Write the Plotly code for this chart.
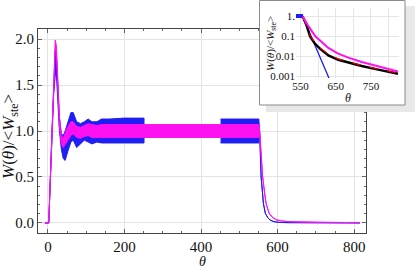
import plotly.graph_objects as go

# ---------------- main chart data (envelopes of the oscillating curves) ----------------
theta_blue_a = [-8, 2, 10, 15, 19, 22, 26, 30, 35, 40, 45, 52, 60, 66, 75, 85, 95, 105, 115, 128, 140, 160, 200, 251]
blue_a_upper = [0, 0, 0.95, 1.55, 1.87, 1.84, 1.5, 1.15, 0.97, 0.95, 1.0, 1.1, 1.2, 1.2, 1.1, 1.08, 1.1, 1.13, 1.1, 1.1, 1.13, 1.13, 1.14, 1.14]
blue_a_lower = [0, 0, 0.85, 1.4, 1.6, 1.62, 1.35, 1.0, 0.8, 0.7, 0.68, 0.78, 0.88, 0.9, 0.82, 0.86, 0.9, 0.88, 0.86, 0.88, 0.87, 0.87, 0.87, 0.87]

theta_blue_b = [451, 500, 551, 553, 557, 563, 568, 574, 580, 590, 605, 630, 700, 815]
blue_b_upper = [1.13, 1.13, 1.13, 1.0, 0.5, 0.21, 0.105, 0.06, 0.033, 0.015, 0.006, 0.002, 0.001, 0.001]
blue_b_lower = [0.87, 0.87, 0.87, 1.0, 0.5, 0.21, 0.105, 0.06, 0.033, 0.015, 0.006, 0.002, 0.001, 0.001]

theta_mag = [-8, 2, 10, 15, 19, 22, 26, 30, 35, 40, 45, 52, 60, 66, 75, 85, 95, 105, 115, 128, 140, 160, 200, 300, 400, 500, 551,
             553, 557, 561, 566, 570, 578, 587, 597, 610, 630, 660, 700, 760, 815]
mag_upper = [0, 0, 0.9, 1.5, 1.99, 1.93, 1.55, 1.15, 0.95, 0.92, 0.98, 1.05, 1.1, 1.1, 1.05, 1.04, 1.06, 1.08, 1.07, 1.06, 1.07, 1.07, 1.07, 1.07, 1.07, 1.07, 1.07,
             1.0, 0.75, 0.5, 0.32, 0.21, 0.105, 0.06, 0.035, 0.022, 0.014, 0.009, 0.006, 0.004, 0.003]
mag_lower = [0, 0, 0.9, 1.5, 1.88, 1.85, 1.45, 1.05, 0.86, 0.82, 0.85, 0.9, 0.95, 0.97, 0.93, 0.92, 0.94, 0.95, 0.93, 0.93, 0.93, 0.93, 0.93, 0.93, 0.93, 0.93, 0.93,
             1.0, 0.75, 0.5, 0.32, 0.21, 0.105, 0.06, 0.035, 0.022, 0.014, 0.009, 0.006, 0.004, 0.003]

x_ticks = [0, 200, 400, 600, 800]
y_ticks = [0.0, 0.5, 1.0, 1.5, 2.0]
y_ticklabels = ["0.0", "0.5", "1.0", "1.5", "2.0"]

# ---------------- inset data (log scale tail) ----------------
theta_in_blue = [537, 555, 556, 570, 585, 600, 615, 632, 645]
blue_in_upper = [1.25, 1.25, 1.0, 0.26, 0.063, 0.015, 0.0036, 0.0007, 0.0002]
blue_in_lower = [0.9, 0.9, 1.0, 0.26, 0.063, 0.015, 0.0036, 0.0007, 0.0002]

theta_in_black = [556, 566, 577, 590, 605, 629, 657, 686, 724, 771, 827]
black_in = [1.0, 0.4, 0.1, 0.045, 0.024, 0.011, 0.0066, 0.0047, 0.0032, 0.0021, 0.0013]
red_in = [1.0, 0.42, 0.11, 0.05, 0.027, 0.0125, 0.0073, 0.0051, 0.0034, 0.0022, 0.0014]

theta_in_mag = [556, 570, 592, 610, 629, 657, 686, 724, 771, 827]
mag_in = [1.0, 0.38, 0.1, 0.053, 0.026, 0.0135, 0.0085, 0.0051, 0.0031, 0.0017]

inset_x_ticks = [550, 650, 750]
inset_y_ticks = [1, 0.1, 0.01, 0.001]
inset_y_ticklabels = ["1.", "0.1", "0.01", "0.001"]

W, H = 415, 270
BLUE = "#1f1ff5"
MAG = "#ff10f0"
SERIF = "Liberation Serif, Times New Roman, serif"


def band(theta, upper, lower):
    return list(theta) + list(theta)[::-1], list(upper) + list(lower)[::-1]


fig = go.Figure()

# main chart bands
for th, up, lo, col in [(theta_blue_a, blue_a_upper, blue_a_lower, BLUE),
                        (theta_blue_b, blue_b_upper, blue_b_lower, BLUE),
                        (theta_mag, mag_upper, mag_lower, MAG)]:
    bx, by = band(th, up, lo)
    fig.add_trace(go.Scatter(x=bx, y=by, mode="lines", fill="toself", fillcolor=col,
                             line=dict(color=col, width=1), xaxis="x", yaxis="y",
                             hoverinfo="skip", showlegend=False))

# canvas subplot for the inset box (drawn above main plot)
fig.add_trace(go.Scatter(x=[], y=[], xaxis="x2", yaxis="y2", showlegend=False))

# inset curves
bx, by = band(theta_in_blue, blue_in_upper, blue_in_lower)
fig.add_trace(go.Scatter(x=bx, y=by, mode="lines", fill="toself", fillcolor=BLUE,
                         line=dict(color=BLUE, width=1.3), xaxis="x3", yaxis="y3",
                         showlegend=False))
fig.add_trace(go.Scatter(x=theta_in_black, y=black_in, mode="lines", line=dict(color="black", width=2.4),
                         xaxis="x3", yaxis="y3", showlegend=False))
fig.add_trace(go.Scatter(x=theta_in_black, y=red_in, mode="lines", line=dict(color="#e00000", width=1.2, dash="dash"),
                         xaxis="x3", yaxis="y3", showlegend=False))
fig.add_trace(go.Scatter(x=theta_in_mag, y=mag_in, mode="lines", line=dict(color=MAG, width=2),
                         xaxis="x3", yaxis="y3", showlegend=False))

frame = dict(showline=True, linecolor="#444", linewidth=1, mirror="allticks",
             ticks="inside", ticklen=4, tickcolor="#666", showgrid=True,
             gridcolor="#e3e3e3", gridwidth=1, zeroline=False, automargin=False,
             tickfont=dict(family=SERIF, size=15, color="#111"))

fig.update_layout(
    width=W, height=H,
    margin=dict(l=0, r=0, t=0, b=0),
    paper_bgcolor="white", plot_bgcolor="rgba(0,0,0,0)",
    showlegend=False,
    xaxis=dict(domain=[38 / W, 366 / W], range=[-26, 831], anchor="y",
               tickvals=x_ticks, minor=dict(dtick=50, tick0=0, ticks="inside", ticklen=2, tickcolor="#666", showgrid=False),
               **frame),
    yaxis=dict(domain=[(H - 233) / H, (H - 29) / H], range=[-0.109, 2.109], anchor="x",
               tickvals=y_ticks, ticktext=y_ticklabels,
               minor=dict(dtick=0.1, tick0=0, ticks="inside", ticklen=2, tickcolor="#666", showgrid=False),
               **frame),
    xaxis2=dict(domain=[0, 1], range=[0, W], visible=False, anchor="y2", fixedrange=True),
    yaxis2=dict(domain=[0, 1], range=[H, 0], visible=False, anchor="x2", fixedrange=True),
    xaxis3=dict(domain=[296 / W, 399 / W], range=[537, 830], anchor="y3",
                tickvals=inset_x_ticks, showline=False, ticks="", showgrid=True,
                gridcolor="#e6e6e6", automargin=False, zeroline=False,
                minor=dict(dtick=50, tick0=0, showgrid=True, gridcolor="#e6e6e6"),
                tickfont=dict(family=SERIF, size=11, color="#111")),
    yaxis3=dict(domain=[(H - 78) / H, (H - 8) / H], type="log", range=[-3.1, 0.43], anchor="x3",
                tickvals=inset_y_ticks, ticktext=inset_y_ticklabels, showline=False, ticks="",
                showgrid=True, gridcolor="#e6e6e6", automargin=False, zeroline=False,
                tickfont=dict(family=SERIF, size=11, color="#111")),
)

# inset box with shadow (on the canvas subplot, above the main chart)
fig.add_shape(type="rect", xref="x2", yref="y2", x0=266, y0=6, x1=416, y1=112,
              fillcolor="#e8e8e8", line=dict(width=0), layer="below")
fig.add_shape(type="rect", xref="x2", yref="y2", x0=259.5, y0=0.5, x1=405, y1=105,
              fillcolor="white", line=dict(color="#8a8a8a", width=1), layer="below")

ytitle = "<i>W</i>(<i>θ</i>)/&lt;<i>W</i><sub>ste</sub>&gt;"
fig.add_annotation(text=ytitle, x=10 / W, y=(H - 137) / H, xref="paper", yref="paper",
                   textangle=-90, showarrow=False, xanchor="center", yanchor="middle",
                   font=dict(family=SERIF, size=17, color="#111"))
fig.add_annotation(text="<i>θ</i>", x=202 / W, y=(H - 261) / H, xref="paper", yref="paper",
                   showarrow=False, xanchor="center", yanchor="middle",
                   font=dict(family=SERIF, size=14, color="#111"))
fig.add_annotation(text=ytitle, x=271 / W, y=(H - 44) / H, xref="paper", yref="paper",
                   textangle=-90, showarrow=False, xanchor="center", yanchor="middle",
                   font=dict(family=SERIF, size=11, color="#111"))
fig.add_annotation(text="<i>θ</i>", x=348 / W, y=(H - 98) / H, xref="paper", yref="paper",
                   showarrow=False, xanchor="center", yanchor="middle",
                   font=dict(family=SERIF, size=12, color="#111"))

fig.write_html("out.html", config={"displayModeBar": False},
               post_script="document.body.style.margin='0';document.body.style.overflow='hidden';")
